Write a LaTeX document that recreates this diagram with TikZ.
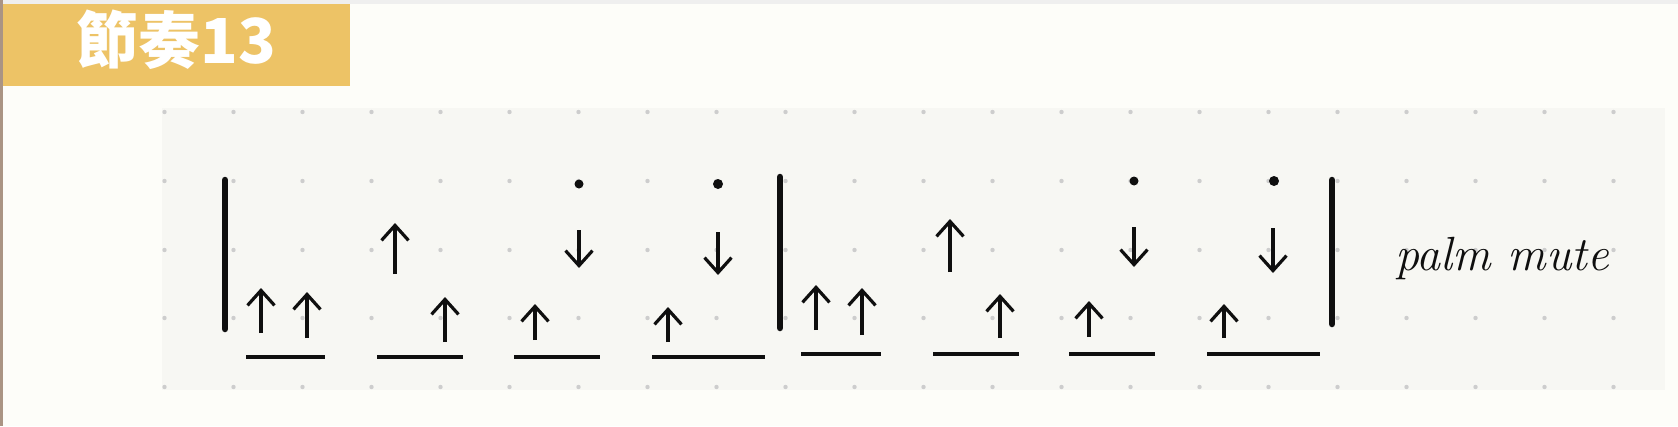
\documentclass[tikz,border=0pt]{standalone}
\usepackage{fontspec}
\newfontfamily\cjk{Noto Sans CJK TC}
\usetikzlibrary{arrows.meta}
\definecolor{bgc}{RGB}{253,253,249}
\definecolor{panelc}{RGB}{247,247,243}
\definecolor{titlec}{RGB}{237,195,102}
\definecolor{dotc}{RGB}{205,205,205}
\definecolor{inkc}{RGB}{15,15,15}
\definecolor{edgec}{RGB}{170,148,132}
\definecolor{topc}{RGB}{239,239,239}
\tikzset{
  barline/.style={draw=inkc, line width=6.5pt, line cap=round},
  beam/.style={draw=inkc, line width=4pt},
  strum/.style={draw=inkc, line width=3.2pt, -{Straight Barb[length=15pt,width=27pt]}},
  accent/.style={fill=inkc, draw=none},
  griddot/.style={fill=dotc, draw=none},
}
\begin{document}
\begin{tikzpicture}[x=1pt,y=-1pt]
\useasboundingbox (0,0) rectangle (1678,426);
\fill[bgc] (0,0) rectangle (1678,426);
\fill[topc] (0,0) rectangle (1678,4);
\fill[edgec] (0,0) rectangle (3,426);
% title
\fill[titlec] (3,4) rectangle (350,86);
\node[text=white, font=\cjk\bfseries\fontsize{62}{62}\selectfont, anchor=center] (title) at (176,40) {節奏13};
% panel
\fill[panelc] (162,108) rectangle (1665,390);
\foreach \k in {0,...,21}{
  \foreach \yy in {112,181,250,318,387}{
    \fill[griddot] (164.5+69*\k,\yy) circle (2.2);
  }
}
% barlines
\draw[barline] (225,180) -- (225,329);
\draw[barline] (780,177) -- (780,328);
\draw[barline] (1332,180) -- (1332,324);
% beams measure 1
\draw[beam] (246,357) -- (325,357);
\draw[beam] (377,357) -- (463,357);
\draw[beam] (514,357) -- (600,357);
\draw[beam] (652,357) -- (765,357);
% beams measure 2
\draw[beam] (801,354) -- (881,354);
\draw[beam] (933,354) -- (1019,354);
\draw[beam] (1069,354) -- (1155,354);
\draw[beam] (1207,354) -- (1320,354);
% strums measure 1
\draw[strum] (261,333) -- (261,288);
\draw[strum] (307,338) -- (307,292);
\draw[strum] (395,274) -- (395,223);
\draw[strum] (445,342) -- (445,297);
\draw[strum] (535,340) -- (535,304);
\draw[strum] (579,230) -- (579,268);
\fill[accent] (579,184) circle (4.5);
\draw[strum] (668,342) -- (668,307);
\draw[strum] (718,232) -- (718,275);
\fill[accent] (718,184) circle (5);
% strums measure 2
\draw[strum] (816,330) -- (816,285);
\draw[strum] (862,335) -- (862,288);
\draw[strum] (950,272) -- (950,219);
\draw[strum] (1000,338) -- (1000,294);
\draw[strum] (1089,337) -- (1089,301);
\draw[strum] (1134,227) -- (1134,267);
\fill[accent] (1134,181) circle (4.5);
\draw[strum] (1224,338) -- (1224,304);
\draw[strum] (1273,228) -- (1273,273);
\fill[accent] (1274,181) circle (5);
% label
\node[text=inkc, font=\itshape\fontsize{48}{48}\selectfont, anchor=base west, inner sep=0pt] (pm) at (1395,270) {palm mute};
\end{tikzpicture}
\end{document}
